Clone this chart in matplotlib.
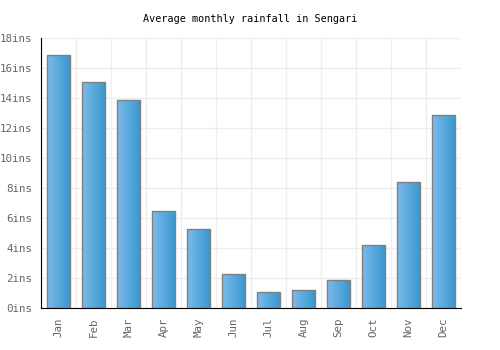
import matplotlib
matplotlib.use("Agg")
import matplotlib.pyplot as plt
import numpy as np
from matplotlib.colors import LinearSegmentedColormap

months = ["Jan", "Feb", "Mar", "Apr", "May", "Jun",
          "Jul", "Aug", "Sep", "Oct", "Nov", "Dec"]
rainfall_ins = [16.9, 15.1, 13.9, 6.5, 5.3, 2.3, 1.1, 1.2, 1.9, 4.2, 8.4, 12.9]
yticks = [0, 2, 4, 6, 8, 10, 12, 14, 16, 18]

plt.rcParams["font.family"] = ["DejaVu Sans Mono"]

fig = plt.figure(figsize=(5, 3.5), dpi=100)
ax = fig.add_axes([0.082, 0.12, 0.84, 0.771])

x = np.arange(len(months))
width = 0.66
bars = ax.bar(x, rainfall_ins, width=width, facecolor="none",
              edgecolor="#808080", linewidth=1.0, zorder=3)

grad = np.linspace(0, 1, 64).reshape(1, -1)
cmap = LinearSegmentedColormap.from_list("bar", ["#7cbbea", "#3796cf"])
for b in bars:
    x0, y0 = b.get_x(), b.get_y()
    w, h = b.get_width(), b.get_height()
    im = ax.imshow(grad, cmap=cmap, aspect="auto",
                   extent=(x0, x0 + w, y0, y0 + h), zorder=2)
    im.set_clip_path(b)

ax.set_xlim(-0.5, len(months) - 0.5)
ax.set_ylim(0, 18)
ax.set_yticks(yticks)
ax.set_yticklabels([f"{v}ins" for v in yticks])
ax.set_xticks(x)
ax.set_xticklabels(months, rotation=90)
ax.set_xticks(np.arange(-0.5, len(months)), minor=True)

ax.grid(True, axis="y", color="#eeeeee", linewidth=1.0, zorder=0)
ax.grid(True, axis="x", which="minor", color="#eeeeee", linewidth=1.0, zorder=0)
ax.tick_params(axis="both", which="both", length=0, labelsize=7.8,
               labelcolor="#666666")
ax.tick_params(axis="y", pad=6)
ax.tick_params(axis="x", pad=7)

for s in ["top", "right"]:
    ax.spines[s].set_visible(False)
ax.spines["left"].set_color("black")
ax.spines["bottom"].set_color("black")

fig.text(0.5, 0.945, "Average monthly rainfall in Sengari",
         ha="center", va="center", fontsize=7.3, color="black")

fig.savefig("out.png", dpi=100)
